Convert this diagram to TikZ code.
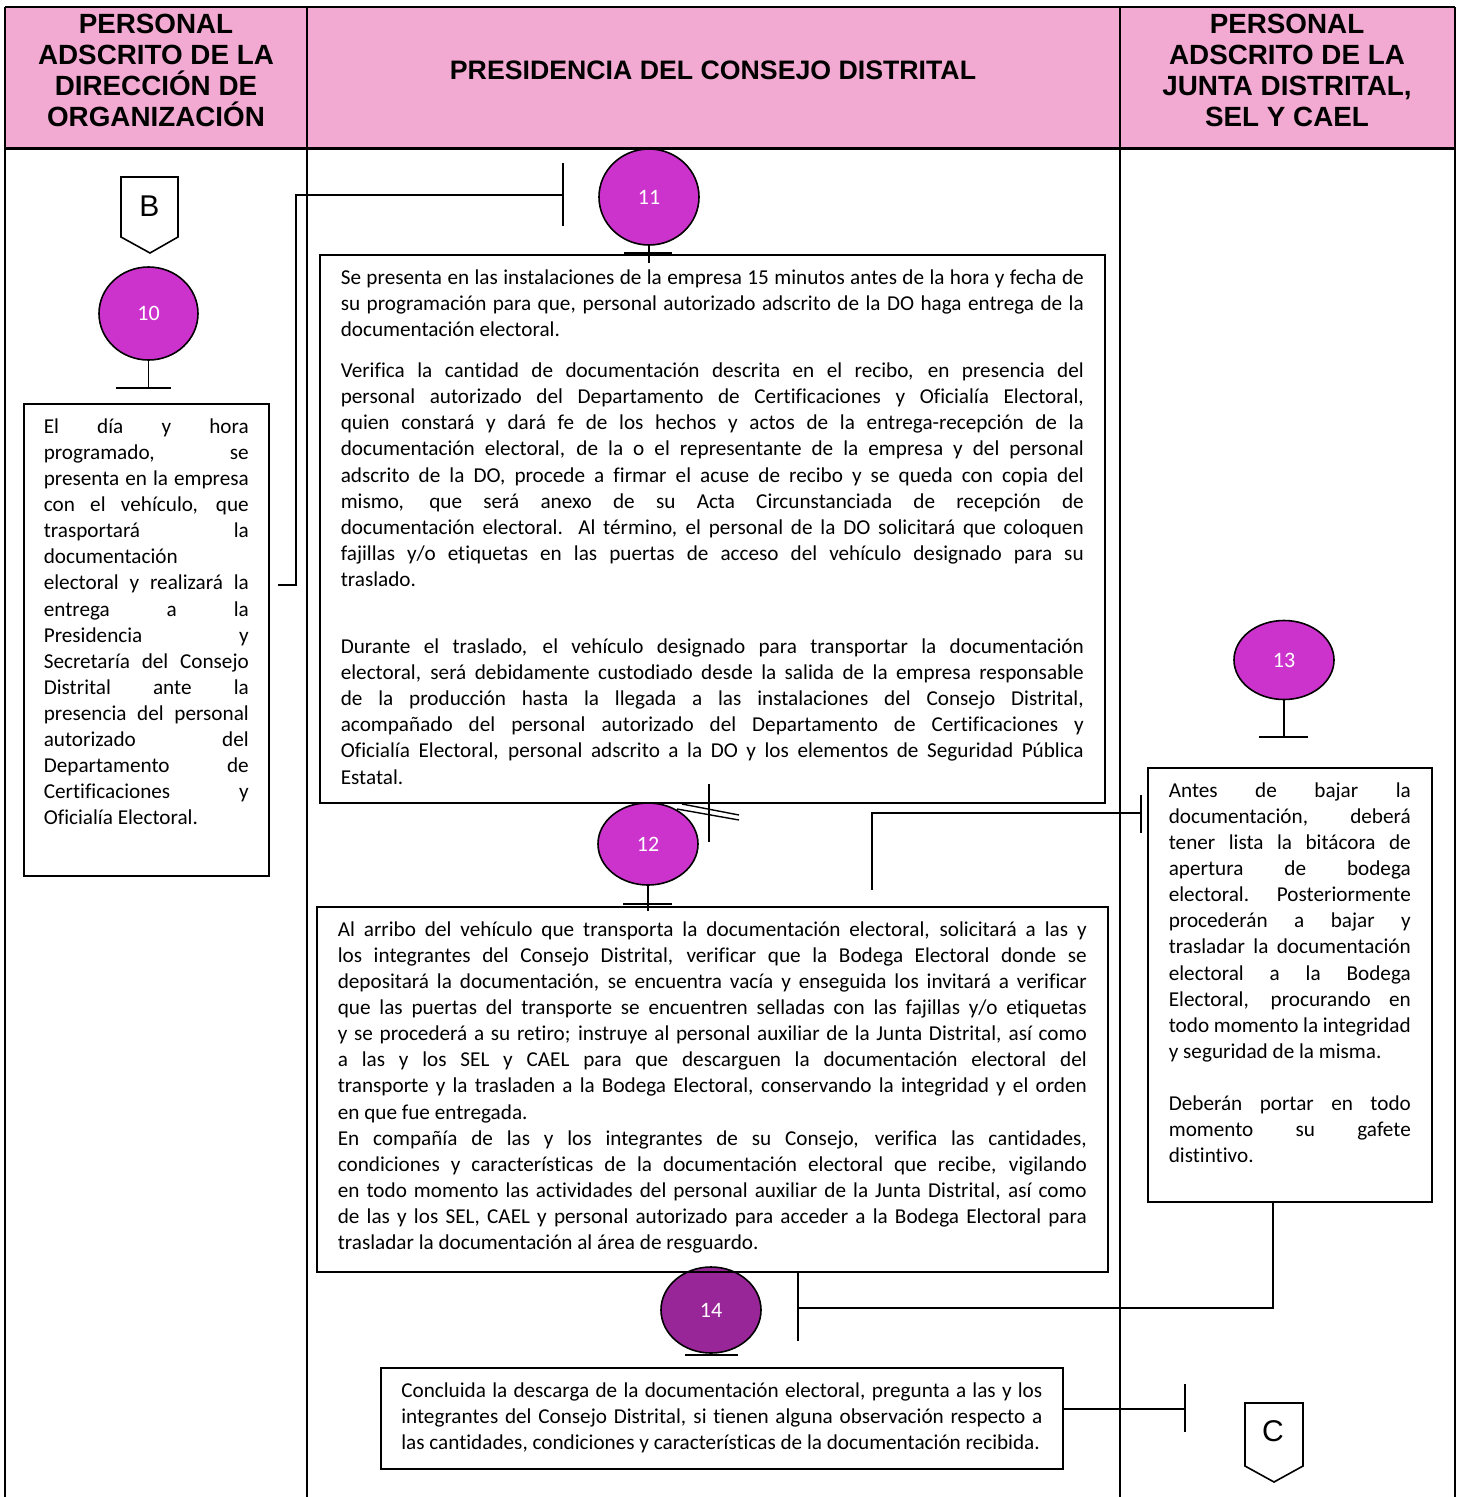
\documentclass[tikz,border=0pt]{standalone}
\usepackage{fontspec}
\setmainfont{Carlito}[Ligatures=NoCommon]
\newfontfamily\hdrfont{Liberation Sans}
\usetikzlibrary{shapes.geometric}
\definecolor{hdrpink}{RGB}{242,170,210}
\definecolor{circmag}{RGB}{204,51,204}
\definecolor{circpur}{RGB}{153,38,153}
\newcommand\jl[1]{\hbox to\hsize{\rule{0pt}{17pt}#1}}
\newcommand\el[1]{\hbox{\rule{0pt}{17pt}#1}}
\newcommand\bodytext[3]{\parbox[t][#2][t]{#1}{\fontsize{21.2}{26.1}\selectfont\vspace*{12.5pt}#3}}
\begin{document}
\begin{tikzpicture}[x=1pt,y=-1pt,
  lane/.style={line width=2.2pt},
  conn/.style={line width=1.8pt},
  box/.style={draw,line width=1.6pt,anchor=north west,inner ysep=0pt},
  circ/.style={ellipse,draw,line width=1.6pt,fill=circmag,text=white,inner sep=0pt,font=\fontsize{22}{24}\selectfont},
  hdr/.style={align=center,font=\hdrfont\bfseries\fontsize{27.8}{31}\selectfont},
  offpage/.style={font=\hdrfont\fontsize{30}{32}\selectfont,inner sep=0pt},
  offshape/.style={draw,line width=1.6pt,fill=white}]
\useasboundingbox (0,0) rectangle (1459,1497);
% header band
\fill[hdrpink] (5,7) rectangle (1455,148);
\draw[lane] (5,7) -- (1455,7);
\draw[line width=3pt] (5,148) -- (1455,148);
\foreach \xx in {5,307,1120,1455} {\draw[lane] (\xx,7) -- (\xx,1497);}
\node[hdr] (h1) at (156,70.5) {PERSONAL\\ADSCRITO DE LA\\DIRECCIÓN DE\\ORGANIZACIÓN};
\node[hdr, font=\hdrfont\bfseries\fontsize{26.7}{31}\selectfont] (h2) at (713,70.5) {PRESIDENCIA DEL CONSEJO DISTRITAL};
\node[hdr] (h3) at (1287,70.5) {PERSONAL\\ADSCRITO DE LA\\JUNTA DISTRITAL,\\SEL Y CAEL};
% off-page connector B
\draw[offshape] (121,177) -- (178,177) -- (178,237) -- (150,253) -- (121,237) -- cycle;
\node[offpage] (B) at (149.5,206) {B};
% circles
\node[circ, minimum width=99, minimum height=93] (c10) at (148.5,313.5) {10};
\node[circ, minimum width=100, minimum height=96] (c11) at (649,197) {11};
\node[circ, minimum width=100, minimum height=82] (c12) at (648,844) {12};
\node[circ, minimum width=100, minimum height=79] (c13) at (1284,660) {13};
\node[circ, fill=circpur, minimum width=100, minimum height=86] (c14) at (711,1310) {14};
% boxes
\node[box, inner xsep=20pt] (b10) at (23,403) {\bodytext{205pt}{472pt}{%
\jl{El día y hora}
\jl{programado, se}
\jl{presenta en la empresa}
\jl{con el vehículo, que}
\jl{trasportará la}
\el{documentación}
\jl{electoral y realizará la}
\jl{entrega a la}
\jl{Presidencia y}
\jl{Secretaría del Consejo}
\jl{Distrital ante la}
\jl{presencia del personal}
\jl{autorizado del}
\jl{Departamento de}
\jl{Certificaciones y}
\el{Oficialía Electoral.}}};
\node[box, inner xsep=21pt] (b11) at (319,254) {\bodytext{743pt}{548pt}{%
\jl{Se presenta en las instalaciones de la empresa 15 minutos antes de la hora y fecha de}
\jl{su programación para que, personal autorizado adscrito de la DO haga entrega de la}
\el{documentación electoral.}
\vspace{15pt}
\jl{Verifica la cantidad de documentación descrita en el recibo, en presencia del}
\jl{personal autorizado del Departamento de Certificaciones y Oficialía Electoral,}
\jl{quien constará y dará fe de los hechos y actos de la entrega-recepción de la}
\jl{documentación electoral, de la o el representante de la empresa y del personal}
\jl{adscrito de la DO, procede a firmar el acuse de recibo y se queda con copia del}
\jl{mismo, que será anexo de su Acta Circunstanciada de recepción de}
\jl{documentación electoral. Al término, el personal de la DO solicitará que coloquen}
\jl{fajillas y/o etiquetas en las puertas de acceso del vehículo designado para su}
\el{traslado.}
\vspace{41pt}
\jl{Durante el traslado, el vehículo designado para transportar la documentación}
\jl{electoral, será debidamente custodiado desde la salida de la empresa responsable}
\jl{de la producción hasta la llegada a las instalaciones del Consejo Distrital,}
\jl{acompañado del personal autorizado del Departamento de Certificaciones y}
\jl{Oficialía Electoral, personal adscrito a la DO y los elementos de Seguridad Pública}
\el{Estatal.}}};
\node[box, inner xsep=21pt] (b12) at (316,906) {\bodytext{749pt}{365pt}{%
\jl{Al arribo del vehículo que transporta la documentación electoral, solicitará a las y}
\jl{los integrantes del Consejo Distrital, verificar que la Bodega Electoral donde se}
\jl{depositará la documentación, se encuentra vacía y enseguida los invitará a verificar}
\jl{que las puertas del transporte se encuentren selladas con las fajillas y/o etiquetas}
\jl{y se procederá a su retiro; instruye al personal auxiliar de la Junta Distrital, así como}
\jl{a las y los SEL y CAEL para que descarguen la documentación electoral del}
\jl{transporte y la trasladen a la Bodega Electoral, conservando la integridad y el orden}
\el{en que fue entregada.}
\jl{En compañía de las y los integrantes de su Consejo, verifica las cantidades,}
\jl{condiciones y características de la documentación electoral que recibe, vigilando}
\jl{en todo momento las actividades del personal auxiliar de la Junta Distrital, así como}
\jl{de las y los SEL, CAEL y personal autorizado para acceder a la Bodega Electoral para}
\el{trasladar la documentación al área de resguardo.}}};
\node[box, inner xsep=21pt] (b13) at (1147,767) {\bodytext{242pt}{434pt}{%
\jl{Antes de bajar la}
\jl{documentación, deberá}
\jl{tener lista la bitácora de}
\jl{apertura de bodega}
\jl{electoral. Posteriormente}
\jl{procederán a bajar y}
\jl{trasladar la documentación}
\jl{electoral a la Bodega}
\jl{Electoral, procurando en}
\jl{todo momento la integridad}
\el{y seguridad de la misma.}
\vspace{26.1pt}
\jl{Deberán portar en todo}
\jl{momento su gafete}
\el{distintivo.}}};
\node[box, inner xsep=20.5pt] (b14) at (380,1367) {\bodytext{641pt}{101pt}{%
\jl{Concluida la descarga de la documentación electoral, pregunta a las y los}
\jl{integrantes del Consejo Distrital, si tienen alguna observación respecto a}
\el{las cantidades, condiciones y características de la documentación recibida.}}};
% off-page connector C
\draw[offshape] (1245,1403) -- (1303,1403) -- (1303,1466) -- (1274,1482) -- (1245,1466) -- cycle;
\node[offpage] (C) at (1273,1431) {C};
% stems and bars under circles
\draw[conn] (c10.south) -- (c10.south |- 0,388);
\draw[conn] (116,388) -- (171,388);
\draw[conn] (c11.south) -- (649,263);
\draw[conn] (624,253) -- (672,253);
\draw[conn] (c12.south) -- (648,911);
\draw[conn] (623,904) -- (672,904);
\draw[conn] (c13.south) -- (1284,737);
\draw[conn] (1259,737) -- (1308,737);
\draw[conn] (c14.south) -- (711,1355);
\draw[conn] (685,1355) -- (738,1355);
% connector 10 -> 11
\coordinate (k1) at (278,585);
\coordinate (k2) at (563,195);
\draw[conn] (k1) -- (296,585) -- (296,195) -- (k2);
\draw[conn] (563,163) -- (563,226);
% break mark between 11 and 12
\draw[conn] (709,784) -- (709,842);
\draw[line width=1.4pt] (682,804) -- (739,815);
\draw[line width=1.4pt] (677,809) -- (739,820);
% connector 12 -> 13
\coordinate (k3) at (872,890);
\coordinate (k4) at (1141,813);
\draw[conn] (k3) -- (872,813) -- (k4);
\draw[conn] (1141,795) -- (1141,833);
% connector 13 -> 14
\coordinate (k5) at (798,1308);
\draw[conn] (b13.south -| 1273,0) -- (1273,1308) -- (k5);
\draw[conn] (798,1272) -- (798,1341);
% connector 14 -> C
\coordinate (k6) at (1185,1409);
\draw[conn] (b14.east |- 0,1409) -- (k6);
\draw[conn] (1185,1384) -- (1185,1432);
\end{tikzpicture}
\end{document}
